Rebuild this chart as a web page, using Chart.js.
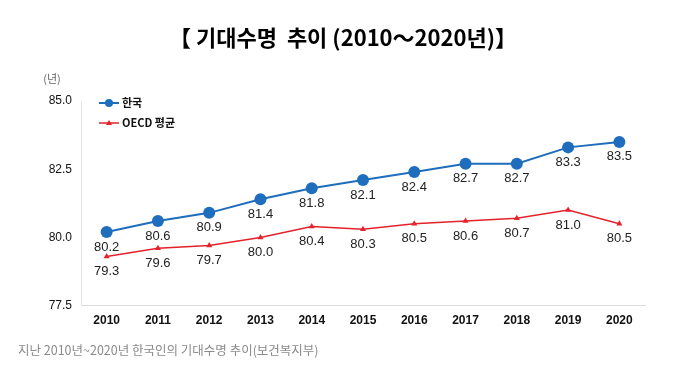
<!DOCTYPE html>
<html>
<head>
<meta charset="utf-8">
<script src="https://cdn.jsdelivr.net/npm/chart.js@4/dist/chart.umd.min.js"></script>
<style>
    html, body { margin: 0; padding: 0; background: #fff; }
    #wrap { width: 700px; height: 370px; position: relative; }
</style>
</head>
<body>
<div id="wrap"><canvas id="lifeChart"></canvas></div>
<script>
// data
const years = ['2010', '2011', '2012', '2013', '2014', '2015', '2016', '2017', '2018', '2019', '2020'];
const koreaValues = [80.2, 80.6, 80.9, 81.4, 81.8, 82.1, 82.4, 82.7, 82.7, 83.3, 83.5];
const oecdValues = [79.3, 79.6, 79.7, 80.0, 80.4, 80.3, 80.5, 80.6, 80.7, 81.0, 80.5];
const yTicks = [77.5, 80.0, 82.5, 85.0];
const seriesNames = ['한국', 'OECD 평균'];

const BLUE = '#1f6dbd';
const RED = '#e3222b';

// titles, unit label, legend and value labels drawn by hand
const decorPlugin = {
    id: 'decor',
    afterDatasetsDraw(chart) {
        const ctx = chart.ctx;
        const area = chart.chartArea;
        ctx.save();

        // value labels under each point
        ctx.font = '13px "Liberation Sans", Arial, sans-serif';
        ctx.fillStyle = '#222';
        ctx.textAlign = 'center';
        ctx.textBaseline = 'middle';
        chart.data.datasets.forEach(function (ds, i) {
            chart.getDatasetMeta(i).data.forEach(function (pt, j) {
                ctx.fillText(ds.data[j].toFixed(1), pt.x, pt.y + 15);
            });
        });

        // legend
        const items = [
            { name: seriesNames[0], color: BLUE, style: 'circle', r: 4, lw: 2 },
            { name: seriesNames[1], color: RED, style: 'triangle', r: 3, lw: 1.5 }
        ];
        items.forEach(function (it, i) {
            const y = area.top + 2 + i * 20;
            const x0 = area.left + 18;
            ctx.strokeStyle = it.color;
            ctx.lineWidth = it.lw;
            ctx.beginPath();
            ctx.moveTo(x0, y);
            ctx.lineTo(x0 + 20, y);
            ctx.stroke();
            ctx.fillStyle = it.color;
            ctx.beginPath();
            if (it.style === 'circle') {
                ctx.arc(x0 + 10, y, it.r, 0, Math.PI * 2);
            } else {
                ctx.moveTo(x0 + 10, y - it.r);
                ctx.lineTo(x0 + 10 + it.r, y + it.r * 0.7);
                ctx.lineTo(x0 + 10 - it.r, y + it.r * 0.7);
                ctx.closePath();
            }
            ctx.fill();
            ctx.fillStyle = '#111';
            ctx.textAlign = 'left';
            ctx.font = 'bold 11px "Noto Sans CJK KR", sans-serif';
            ctx.fillText(it.name, x0 + 23, y);
        });

        // unit label
        ctx.fillStyle = '#666';
        ctx.textAlign = 'center';
        ctx.font = '11px "Noto Sans CJK KR", sans-serif';
        ctx.fillText('(년)', 52, 79);

        // title
        ctx.fillStyle = '#000';
        ctx.font = 'bold 22px "Noto Sans CJK KR", sans-serif';
        ctx.fillText('【 기대수명  추이 (2010～2020년)】', 343, 38);

        // footnote
        ctx.fillStyle = '#8a8a8a';
        ctx.textAlign = 'left';
        ctx.font = '12.5px "Noto Sans CJK KR", sans-serif';
        ctx.fillText('지난 2010년~2020년 한국인의 기대수명 추이(보건복지부)', 18, 350);

        ctx.restore();
    }
};

document.addEventListener('DOMContentLoaded', function () {
    const ctx = document.getElementById('lifeChart').getContext('2d');
    const lifeChart = new Chart(ctx, {
        type: 'line',
        data: {
            labels: years,
            datasets: [{
                label: seriesNames[0],
                data: koreaValues,
                borderColor: BLUE,
                backgroundColor: BLUE,
                borderWidth: 2,
                pointStyle: 'circle',
                pointRadius: 6,
                pointBorderWidth: 0,
                tension: 0
            }, {
                label: seriesNames[1],
                data: oecdValues,
                borderColor: RED,
                backgroundColor: RED,
                borderWidth: 1.5,
                pointStyle: 'triangle',
                pointRadius: 3.5,
                pointBorderWidth: 0,
                tension: 0
            }]
        },
        options: {
            responsive: true,
            maintainAspectRatio: false,
            animation: false,
            layout: {
                padding: { top: 101, right: 55, bottom: 42, left: 0 }
            },
            scales: {
                x: {
                    offset: true,
                    grid: { display: false },
                    border: { display: true, color: '#dcdcdc', width: 1 },
                    ticks: {
                        color: '#111',
                        padding: 0,
                        font: { family: '"Liberation Sans", Arial, sans-serif', size: 12, weight: 'bold' }
                    }
                },
                y: {
                    min: 77.5,
                    max: 85,
                    afterFit: function (scale) { scale.width = 81; },
                    afterBuildTicks: function (scale) {
                        scale.ticks = yTicks.map(function (v) { return { value: v }; });
                    },
                    grid: { display: false },
                    border: { display: true, color: '#e3e3e3', width: 1 },
                    ticks: {
                        color: '#111',
                        padding: 1,
                        callback: function (v) { return Number(v).toFixed(1); },
                        font: { family: '"Liberation Sans", Arial, sans-serif', size: 12 }
                    }
                }
            },
            plugins: {
                legend: { display: false },
                tooltip: { enabled: false }
            }
        },
        plugins: [decorPlugin]
    });
});
</script>
</body>
</html>
